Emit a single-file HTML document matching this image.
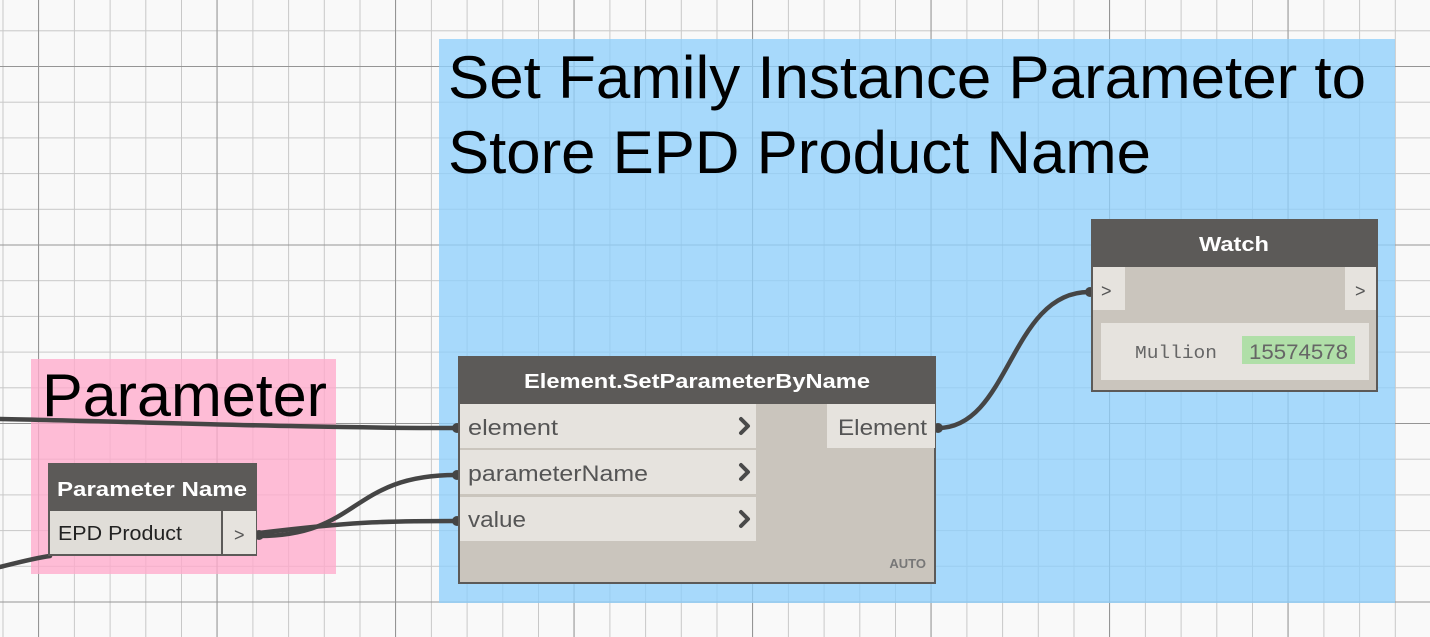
<!DOCTYPE html>
<html><head><meta charset="utf-8"><style>html,body{margin:0;padding:0;background:#f9f9f9}svg{display:block}</style></head>
<body>
<svg width="1430" height="637" viewBox="0 0 1430 637" xmlns="http://www.w3.org/2000/svg" font-family="Liberation Sans, DejaVu Sans, sans-serif">
<defs>
<pattern id="minor" x="2.5" y="30.3" width="35.7" height="35.7" patternUnits="userSpaceOnUse">
<path d="M0 0V35.7M0 0H35.7" stroke="#c8c8c8" stroke-width="2" fill="none"/>
</pattern>
<pattern id="major" x="38" y="66" width="178.5" height="178.5" patternUnits="userSpaceOnUse">
<path d="M0 0V178.5M0 0H178.5" stroke="#959595" stroke-width="2" fill="none"/>
</pattern>
</defs>
<rect width="1430" height="637" fill="#f9f9f9"/>
<rect width="1430" height="637" fill="url(#minor)"/>
<rect width="1430" height="637" fill="url(#major)"/>

<!-- groups -->
<rect x="439" y="39" width="956" height="564" fill="#8fd0fb" opacity="0.78"/>
<rect x="31" y="359" width="305" height="215" fill="#ffaacc" opacity="0.78"/>

<text x="448" y="98" font-size="60" fill="#000" textLength="918" lengthAdjust="spacingAndGlyphs">Set Family Instance Parameter to</text>
<text x="448" y="173" font-size="60" fill="#000" textLength="703" lengthAdjust="spacingAndGlyphs">Store EPD Product Name</text>
<text x="42" y="416" font-size="60" fill="#000" textLength="285" lengthAdjust="spacingAndGlyphs">Parameter</text>

<!-- wires -->
<g stroke="#454545" stroke-width="4.5" fill="none" stroke-linecap="round">
<path d="M0 419 C150 422 300 428 456 428"/>
<path d="M0 567 C20 562 35 558 50 556"/>
<path d="M259 536 C360 536 350 475 456 475"/>
<path d="M259 533 C350 522 380 521 456 521"/>
<path d="M938 428 C1010 428 1010 292 1089 292"/>
</g>
<g fill="#454545">
<circle cx="457" cy="428" r="5"/><circle cx="457" cy="475" r="5"/><circle cx="457" cy="521" r="5"/>
<circle cx="259" cy="535" r="5"/><circle cx="938" cy="428" r="5"/><circle cx="1090" cy="292" r="5"/>
</g>

<!-- Parameter Name node -->
<rect x="48" y="463" width="209" height="93" fill="#5c5a58"/>
<rect x="50" y="511" width="171" height="43" fill="#e0ddd8"/>
<rect x="223" y="511" width="33" height="43" fill="#e6e3de"/>
<text x="152" y="496" font-size="20" font-weight="bold" fill="#fff" text-anchor="middle" textLength="190" lengthAdjust="spacingAndGlyphs">Parameter Name</text>
<text x="58" y="540" font-size="20" fill="#222" textLength="124" lengthAdjust="spacingAndGlyphs">EPD Product</text>
<text x="234" y="541" font-size="18" fill="#555">&gt;</text>

<!-- SetParameterByName node -->
<rect x="458" y="356" width="478" height="228" fill="#5c5a58"/>
<rect x="460" y="404" width="474" height="178" fill="#cac5bd"/>
<rect x="460" y="404" width="296" height="44" fill="#e6e3de"/>
<rect x="460" y="450" width="296" height="44" fill="#e6e3de"/>
<rect x="460" y="497" width="296" height="44" fill="#e6e3de"/>
<rect x="827" y="404" width="108" height="44" fill="#e6e3de"/>
<text x="697" y="388" font-size="20" font-weight="bold" fill="#fff" text-anchor="middle" textLength="346" lengthAdjust="spacingAndGlyphs">Element.SetParameterByName</text>
<text x="468" y="435" font-size="22" fill="#555" textLength="90" lengthAdjust="spacingAndGlyphs">element</text>
<text x="468" y="481" font-size="22" fill="#555" textLength="180" lengthAdjust="spacingAndGlyphs">parameterName</text>
<text x="468" y="527" font-size="22" fill="#555" textLength="58" lengthAdjust="spacingAndGlyphs">value</text>
<text x="838" y="435" font-size="22" fill="#555" textLength="89" lengthAdjust="spacingAndGlyphs">Element</text>
<g stroke="#4a4a4a" stroke-width="4" fill="none" stroke-linecap="round" stroke-linejoin="round">
<path d="M741 419 L748 426 L741 433"/><path d="M741 465 L748 472 L741 479"/><path d="M741 512 L748 519 L741 526"/>
</g>
<text x="926" y="568" font-size="13" font-weight="bold" fill="#777" text-anchor="end">AUTO</text>

<!-- Watch node -->
<rect x="1091" y="219" width="287" height="173" fill="#5c5a58"/>
<rect x="1093" y="267" width="283" height="123" fill="#cac5bd"/>
<rect x="1093" y="267" width="32" height="43" fill="#e6e3de"/>
<rect x="1345" y="267" width="31" height="43" fill="#e6e3de"/>
<rect x="1101" y="323" width="268" height="57" fill="#e6e3de"/>
<rect x="1242" y="336" width="113" height="28" fill="#b0dfa8"/>
<text x="1234" y="251" font-size="20" font-weight="bold" fill="#fff" text-anchor="middle" textLength="70" lengthAdjust="spacingAndGlyphs">Watch</text>
<text x="1101" y="297" font-size="18" fill="#555">&gt;</text>
<text x="1355" y="297" font-size="18" fill="#555">&gt;</text>
<text x="1135" y="358" font-family="Liberation Mono, monospace" font-size="18" fill="#666" textLength="82" lengthAdjust="spacingAndGlyphs">Mullion</text>
<text x="1249" y="359" font-size="21" fill="#666" textLength="99" lengthAdjust="spacingAndGlyphs">15574578</text>
</svg>
</body></html>
